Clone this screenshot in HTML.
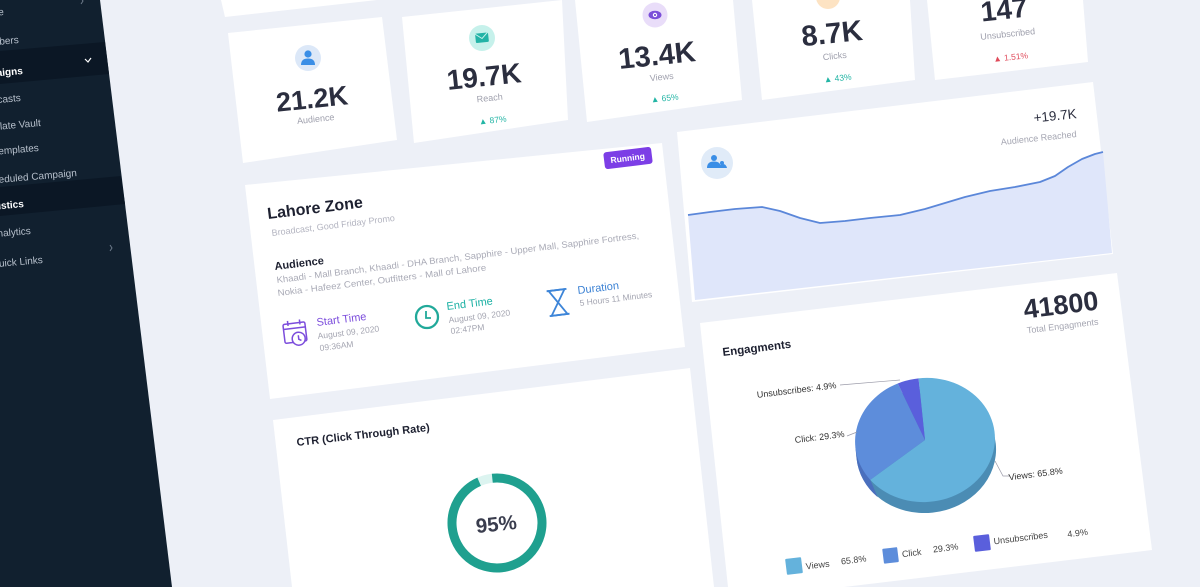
<!DOCTYPE html>
<html><head><meta charset="utf-8"><style>
html,body{margin:0;padding:0;background:#edf0f7;width:1200px;height:587px;overflow:hidden;}
svg{display:block;}
text{font-family:"Liberation Sans",sans-serif;}
</style></head><body>
<svg width="1200" height="587" viewBox="0 0 1200 587" xmlns="http://www.w3.org/2000/svg">
<rect width="1200" height="587" fill="#edf0f7"/>

<!-- Sidebar -->
<polygon points="0,0 100,0 172,587 0,587" fill="#11202f"/>
<polygon points="0,51 105,42 109,74 0,84" fill="#0b1725"/>
<polygon points="0,187 121,176 125,204 0,216" fill="#0b1725"/>
<g font-size="10" fill="#b7c0cc" text-anchor="end">
<text x="4" y="15" transform="rotate(-5 4 15)">Home</text>
<text x="19" y="43" transform="rotate(-5 19 43)">Subscribers</text>
<text x="23" y="74" transform="rotate(-5 23 74)" fill="#ffffff" font-weight="bold">Campaigns</text>
<text x="21" y="101" transform="rotate(-5 21 101)">Broadcasts</text>
<text x="41" y="126" transform="rotate(-5 41 126)">Template Vault</text>
<text x="39" y="151" transform="rotate(-5 39 151)">My Templates</text>
<text x="77" y="176" transform="rotate(-5 77 176)">Scheduled Campaign</text>
<text x="24" y="207" transform="rotate(-5 24 207)" fill="#ffffff" font-weight="bold">Statistics</text>
<text x="31" y="234" transform="rotate(-5 31 234)">Analytics</text>
<text x="43" y="263" transform="rotate(-5 43 263)">Quick Links</text>
</g>
<polyline points="85,59 88,62 91,58" fill="none" stroke="#ffffff" stroke-width="1.2"/>
<polyline points="110,245 112,248 110,251" fill="none" stroke="#6d7a8a" stroke-width="1"/>
<polyline points="81,-2 83,1 81,4" fill="none" stroke="#6d7a8a" stroke-width="1"/>

<!-- Top stat cards -->
<polygon points="221,0 377,0 225,17" fill="#ffffff"/>
<polygon points="228,33 382,17 397,140 243,163" fill="#ffffff"/>
<polygon points="402,17 562,0 568,120 414,143" fill="#ffffff"/>
<polygon points="575,0 733,0 742,100 587,122" fill="#ffffff"/>
<polygon points="752,0 910,0 915,80 762,100" fill="#ffffff"/>
<polygon points="927,0 1083,0 1088,62 935,80" fill="#ffffff"/>

<!-- Audience card -->
<circle cx="308" cy="58" r="13" fill="#dce8f8"/>
<circle cx="308" cy="54" r="3.6" fill="#3a8ee6"/>
<path d="M301,65 Q301,58.5 308,58.5 Q315,58.5 315,65 Z" fill="#3a8ee6"/>
<text x="313" y="108" font-size="27" font-weight="bold" fill="#2b2e3f" text-anchor="middle" transform="rotate(-6 313 108)">21.2K</text>
<text x="316" y="122" font-size="9" fill="#9fa0ad" text-anchor="middle" transform="rotate(-6 316 122)">Audience</text>

<!-- Reach card -->
<circle cx="482" cy="38" r="13" fill="#c6f1eb"/>
<rect x="475.5" y="33" width="13" height="9.5" rx="1" fill="#22b3a6" transform="rotate(-6 482 38)"/>
<polyline points="475.5,33.5 482,38.5 488.5,32.5" fill="none" stroke="#c6f1eb" stroke-width="1" transform="rotate(-6 482 38)"/>
<text x="485" y="86" font-size="28" font-weight="bold" fill="#2b2e3f" text-anchor="middle" transform="rotate(-6 485 86)">19.7K</text>
<text x="490" y="101" font-size="9" fill="#9fa0ad" text-anchor="middle" transform="rotate(-6 490 101)">Reach</text>
<text x="493" y="123" font-size="8.5" fill="#23b5a5" text-anchor="middle" transform="rotate(-6 493 123)">▲  87%</text>

<!-- Views card -->
<circle cx="655" cy="15" r="12.5" fill="#e9ddf9"/>
<ellipse cx="655" cy="15" rx="6.5" ry="4.2" fill="#7b4fd9"/>
<circle cx="655" cy="15" r="2.2" fill="#ffffff"/>
<circle cx="655" cy="15" r="1.1" fill="#7b4fd9"/>
<text x="658" y="65" font-size="29" font-weight="bold" fill="#2b2e3f" text-anchor="middle" transform="rotate(-6 658 65)">13.4K</text>
<text x="662" y="80" font-size="9" fill="#9fa0ad" text-anchor="middle" transform="rotate(-6 662 80)">Views</text>
<text x="665" y="101" font-size="8.5" fill="#23b5a5" text-anchor="middle" transform="rotate(-6 665 101)">▲  65%</text>

<!-- Clicks card -->
<circle cx="828" cy="-3" r="12" fill="#fde3c3"/>
<text x="833" y="43" font-size="29" font-weight="bold" fill="#2b2e3f" text-anchor="middle" transform="rotate(-6 833 43)">8.7K</text>
<text x="835" y="59" font-size="9" fill="#9fa0ad" text-anchor="middle" transform="rotate(-6 835 59)">Clicks</text>
<text x="838" y="81" font-size="8.5" fill="#23b5a5" text-anchor="middle" transform="rotate(-6 838 81)">▲  43%</text>

<!-- Unsubscribed card -->
<text x="1005" y="19" font-size="28" font-weight="bold" fill="#2b2e3f" text-anchor="middle" transform="rotate(-6 1005 19)">147</text>
<text x="1008" y="37" font-size="9" fill="#9fa0ad" text-anchor="middle" transform="rotate(-6 1008 37)">Unsubscribed</text>
<text x="1011" y="60" font-size="8.5" fill="#e04a5a" text-anchor="middle" transform="rotate(-6 1011 60)">▲  1.51%</text>

<!-- Lahore Zone card -->
<polygon points="245,185 662,143 685,347 270,399" fill="#ffffff"/>
<rect x="604" y="149.5" width="48" height="17" rx="3" fill="#7c3ee6" transform="rotate(-7 628 158)"/>
<text x="628" y="161" font-size="8.5" font-weight="bold" fill="#ffffff" text-anchor="middle" transform="rotate(-7 628 161)">Running</text>
<text x="268" y="219" font-size="16" font-weight="bold" fill="#1d2030" transform="rotate(-7 268 219)">Lahore Zone</text>
<text x="272" y="236" font-size="9" fill="#b3b4c0" transform="rotate(-7 272 236)">Broadcast, Good Friday Promo</text>
<text x="275" y="270" font-size="11" font-weight="bold" fill="#1d2030" transform="rotate(-7 275 270)">Audience</text>
<text x="277" y="283" font-size="9" fill="#a9aab6" textLength="365" lengthAdjust="spacingAndGlyphs" transform="rotate(-7 277 283)">Khaadi - Mall Branch, Khaadi - DHA Branch, Sapphire - Upper Mall, Sapphire Fortress,</text>
<text x="278" y="296" font-size="9" fill="#a9aab6" textLength="210" lengthAdjust="spacingAndGlyphs" transform="rotate(-7 278 296)">Nokia - Hafeez Center, Outfitters - Mall of Lahore</text>
<!-- calendar icon -->
<g transform="rotate(-7 296 333)" fill="none" stroke="#7c4ddc" stroke-width="1.5">
<rect x="284" y="323" width="22" height="19" rx="1.5"/>
<line x1="284" y1="328" x2="306" y2="328"/>
<line x1="289" y1="320" x2="289" y2="325"/>
<line x1="301" y1="320" x2="301" y2="325"/>
<circle cx="298" cy="339" r="6.5" fill="#ffffff"/>
<polyline points="298,335.5 298,339.5 300.5,341"/>
</g>
<text x="317" y="326" font-size="11" fill="#7c4ddc" transform="rotate(-7 317 326)">Start Time</text>
<text x="318" y="339" font-size="8.5" fill="#a5a6b2" transform="rotate(-7 318 339)">August 09, 2020</text>
<text x="320" y="351" font-size="8.5" fill="#a5a6b2" transform="rotate(-7 320 351)">09:36AM</text>
<!-- clock icon -->
<circle cx="427" cy="317" r="11" fill="none" stroke="#21a99a" stroke-width="2.3"/>
<polyline points="426,311 426,318 431,318" fill="none" stroke="#21a99a" stroke-width="1.8"/>
<text x="447" y="310" font-size="11" fill="#1cb1a4" transform="rotate(-7 447 310)">End Time</text>
<text x="449" y="323" font-size="8.5" fill="#a5a6b2" transform="rotate(-7 449 323)">August 09, 2020</text>
<text x="451" y="334" font-size="8.5" fill="#a5a6b2" transform="rotate(-7 451 334)">02:47PM</text>
<!-- hourglass icon -->
<g transform="rotate(-7 558 302)" fill="none" stroke="#3d85d8" stroke-width="1.8">
<line x1="548" y1="290" x2="568" y2="290"/>
<line x1="548" y1="315" x2="568" y2="315"/>
<path d="M550,290 L566,290 L558,302.5 L566,315 L550,315 L558,302.5 Z"/>
</g>
<text x="578" y="294" font-size="11" fill="#3c82d4" transform="rotate(-7 578 294)">Duration</text>
<text x="580" y="306" font-size="8.5" fill="#a5a6b2" transform="rotate(-7 580 306)">5 Hours 11 Minutes</text>

<!-- Line chart card -->
<polygon points="677,132 1093,82 1113,254 692,302" fill="#ffffff"/>
<polygon points="688,215 710,212 735,209 762,207 780,211 800,218 820,223 845,221 870,218 900,215 925,209 945,203 965,197 990,191 1015,187 1040,182 1055,176 1068,167 1082,159 1095,154 1103,152 1112,253 695,300" fill="#dfe6fa"/>
<polyline points="688,215 710,212 735,209 762,207 780,211 800,218 820,223 845,221 870,218 900,215 925,209 945,203 965,197 990,191 1015,187 1040,182 1055,176 1068,167 1082,159 1095,154 1103,152" fill="none" stroke="#5b87d9" stroke-width="1.8" stroke-linejoin="round"/>
<circle cx="717" cy="163" r="16" fill="#e0ebf8"/>
<circle cx="714" cy="158" r="3" fill="#3a8ee6"/>
<path d="M707,168 Q707,161.5 714,161.5 Q721,161.5 721,168 Z" fill="#3a8ee6"/>
<circle cx="722" cy="163" r="2" fill="#3a8ee6"/>
<path d="M719,168 Q720,164 723,164 Q726,164 727,168 Z" fill="#3a8ee6"/>
<text x="1077" y="118" font-size="13.5" fill="#2b2e3f" text-anchor="end" transform="rotate(-6 1077 118)">+19.7K</text>
<text x="1039" y="141" font-size="9" fill="#a5a6b2" text-anchor="middle" transform="rotate(-6 1039 141)">Audience Reached</text>

<!-- Engagement card -->
<polygon points="700,323 1117,273 1152,550 844,587 728,587" fill="#ffffff"/>
<text x="1062" y="314" font-size="27" font-weight="bold" fill="#2b2e3f" text-anchor="middle" transform="rotate(-7 1062 314)">41800</text>
<text x="1063" y="329" font-size="9" fill="#a5a6b2" text-anchor="middle" transform="rotate(-7 1063 329)">Total Engagments</text>
<text x="723" y="356" font-size="11.5" font-weight="bold" fill="#1d2030" transform="rotate(-7 723 356)">Engagments</text>
<g transform="rotate(-6 925 440)">
<ellipse cx="925" cy="451" rx="70" ry="62" fill="#4b8cb4"/>
<path d="M855,440 L855,451 A70,62 0 0 0 872,492 L866.4,473.9 Z" fill="#4a6fbd"/>
<path d="M925,440 L925,378 A70,62 0 1 1 866.4,473.9 Z" fill="#64b2dc"/>
<path d="M925,440 L866.4,473.9 A70,62 0 0 1 903.8,380.9 Z" fill="#5d8ddb"/>
<path d="M925,440 L903.8,380.9 A70,62 0 0 1 925,378 Z" fill="#5a5fdc"/>
</g>
<polyline points="840,385 900,380" fill="none" stroke="#9a9aa8" stroke-width="0.7"/>
<polyline points="847,436 857,432" fill="none" stroke="#9a9aa8" stroke-width="0.7"/>
<polyline points="995,461 1003,476 1010,476" fill="none" stroke="#9a9aa8" stroke-width="0.7"/>
<g font-size="9" fill="#333333" text-anchor="middle">
<text x="797" y="393" transform="rotate(-7 797 393)">Unsubscribes: 4.9%</text>
<text x="820" y="440" transform="rotate(-7 820 440)">Click: 29.3%</text>
<text x="1036" y="477" transform="rotate(-7 1036 477)">Views: 65.8%</text>
</g>
<rect x="786" y="558" width="16" height="16" rx="1" fill="#64b2dc" transform="rotate(-7 794 566)"/>
<rect x="883" y="548" width="15" height="15" rx="1" fill="#5d8ddb" transform="rotate(-7 890 555)"/>
<rect x="974" y="535" width="16" height="16" rx="1" fill="#5a5fdc" transform="rotate(-7 982 543)"/>
<g font-size="9" fill="#444444" text-anchor="middle">
<text x="818" y="568" transform="rotate(-7 818 568)">Views</text>
<text x="854" y="563" transform="rotate(-7 854 563)">65.8%</text>
<text x="912" y="556" transform="rotate(-7 912 556)">Click</text>
<text x="946" y="551" transform="rotate(-7 946 551)">29.3%</text>
<text x="1021" y="541" transform="rotate(-7 1021 541)">Unsubscribes</text>
<text x="1078" y="536" transform="rotate(-7 1078 536)">4.9%</text>
</g>

<!-- CTR card -->
<polygon points="273,420 690,368 714,587 292,587" fill="#ffffff"/>
<text x="297" y="446" font-size="11" font-weight="bold" fill="#1d2030" transform="rotate(-6.5 297 446)">CTR (Click Through Rate)</text>
<circle cx="497" cy="523" r="45" fill="none" stroke="#dcf4f0" stroke-width="9"/>
<circle cx="497" cy="523" r="45" fill="none" stroke="#1fa08f" stroke-width="9" stroke-dasharray="268.6 282.7" transform="rotate(-96 497 523)"/>
<text x="497" y="531" font-size="20.5" font-weight="bold" fill="#3a3d4e" text-anchor="middle" transform="rotate(-6 497 531)">95%</text>
</svg>
</body></html>
